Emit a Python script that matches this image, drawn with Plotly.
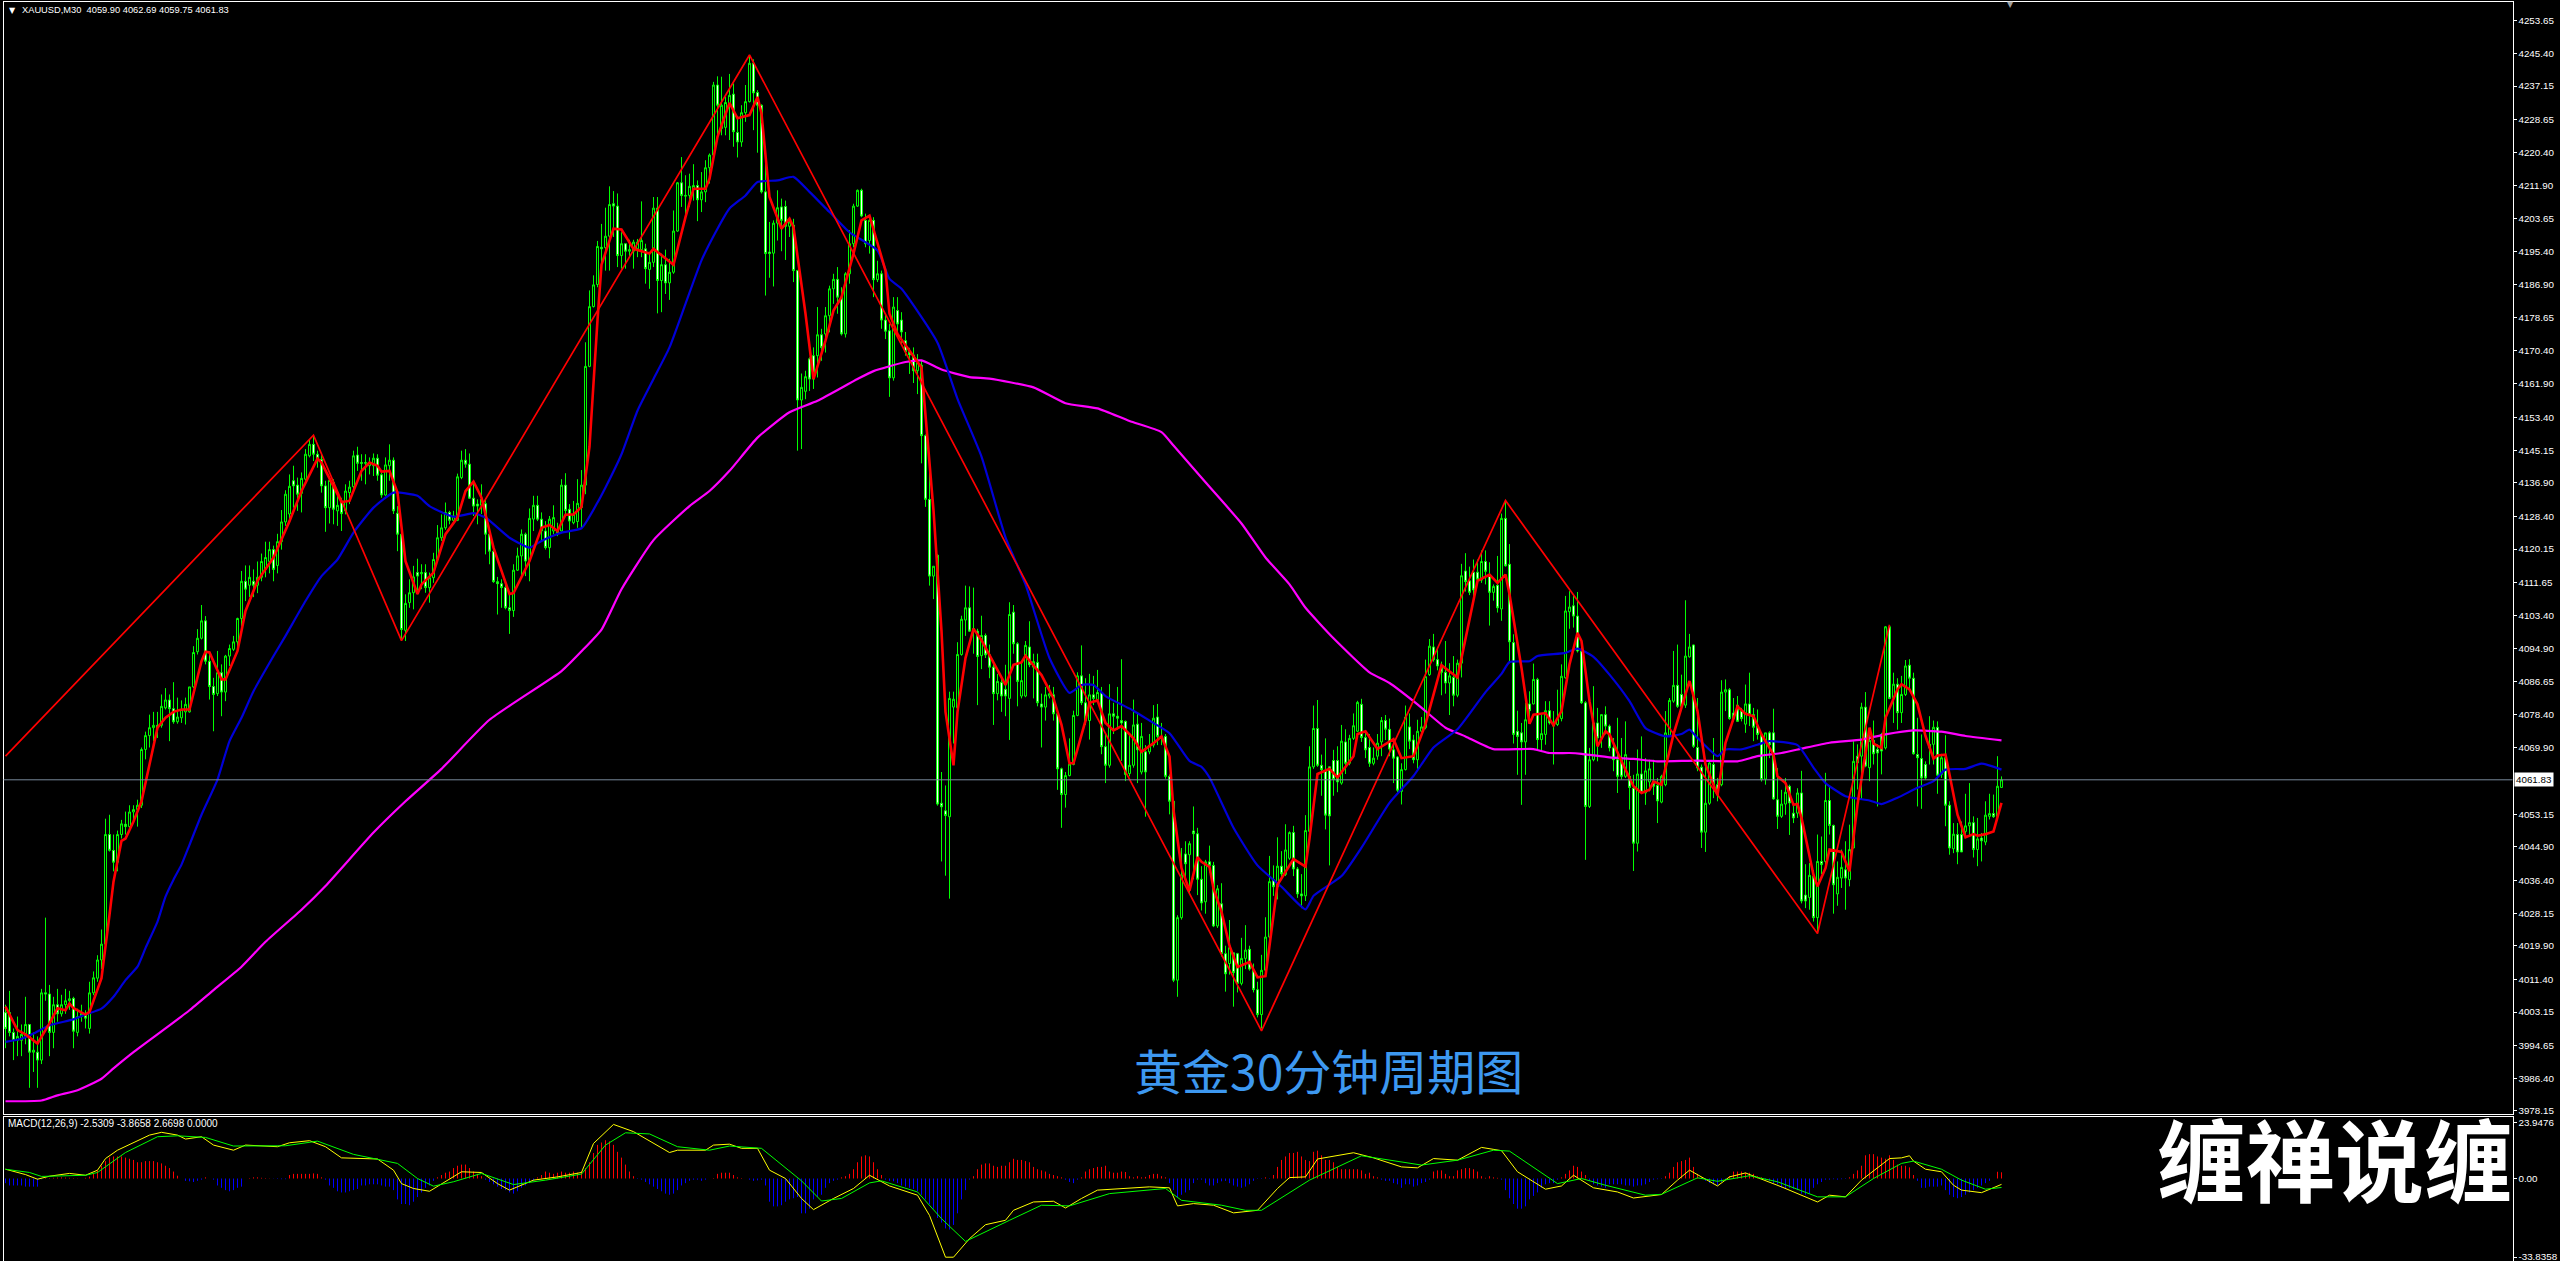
import plotly.graph_objects as go

W, H = 2560, 1261

tops = [
4003,4003,3998,3997,3997.5,4000,4000,3993.5,3993,4008,
4008,4007.7,4005,4005,4005,4006,4006.5,4006.6,4002,4002.8,
4002.6,4008,4011.8,4016.3,4020.3,4048,4048,4044,4048,4050.7,
4050.6,4053.7,4054.3,4055.4,4069.5,4073,4075,4075.6,4075.6,4080.4,
4082,4082,4079.8,4077.7,4079.6,4080.9,4085.3,4094,4097.6,4102,
4102,4091.8,4085.4,4088.9,4088.9,4093.1,4095,4096.7,4102.6,4112,
4112,4113,4112,4113,4117,4118,4120,4120,4122,4127,
4134,4136,4137.4,4136.3,4138,4144.1,4146.6,4146.6,4144.1,4142.8,
4136.1,4137.5,4137,4131.2,4132.3,4134.8,4135.8,4143.7,4143.9,4142,
4142,4142,4143.1,4143.1,4138.9,4141.4,4142.6,4142.6,4129.2,4123.9,
4106.4,4109.1,4113.1,4114.2,4114.2,4114.2,4112.9,4117.5,4123,4125.5,
4129.4,4129.4,4128.5,4138.4,4142.6,4142.6,4141.6,4133,4131.5,4132.7,
4131.6,4123.9,4119.6,4111.9,4111.4,4110.4,4105.3,4114.8,4118.4,4123.9,
4123.9,4127.9,4131.2,4131.2,4127.7,4124.7,4127.7,4128.1,4124.7,4136.3,
4136.3,4130.2,4128.9,4131.7,4136.3,4166.3,4181.4,4186.9,4196.6,4196.4,
4199.2,4207.2,4207.4,4206.8,4197.3,4197.3,4195.8,4197.7,4197.7,4198.1,
4196,4192.6,4206.3,4206.3,4192,4192,4190.1,4200.5,4212.7,4212.7,
4209.5,4211.8,4212,4212,4210.4,4216.5,4219.7,4237.4,4237.4,4232.3,
4233,4234.8,4235.1,4225.4,4230.4,4233.2,4242.9,4242.9,4235.5,4232.3,
4210.4,4195.2,4202.5,4206.4,4206.6,4206.7,4202.8,4202,4190.5,4161,
4163.7,4168.2,4169,4174.3,4174.3,4179.1,4185.9,4188.3,4188.3,4183.8,
4189.7,4197.3,4206.8,4210.8,4210.8,4203.2,4203.2,4203.2,4189.7,4189.7,
4178,4175.3,4181.3,4180.4,4178,4172.8,4170,4169.2,4167.2,4166.6,
4148.8,4132.7,4115.8,4118.6,4055.9,4054,4082.4,4082.2,4093.5,4102.4,
4105.3,4105.3,4100,4099.4,4098.3,4098.3,4093.4,4090.3,4086.7,4086.4,
4084.7,4103.6,4104.2,4096.2,4086.9,4095.8,4095.4,4091.7,4091.5,4081,
4083.3,4083.6,4083.3,4078.5,4064.6,4062.9,4065.8,4078.1,4088.1,4088.1,
4081.3,4083.3,4083.3,4083.9,4083.9,4070.2,4078.5,4078.5,4077.9,4076.8,
4076.6,4065.5,4075.7,4075.9,4072.8,4068.9,4070.6,4077.4,4077.7,4072.8,
4072.8,4062.7,4056.4,4027,4037.8,4043.1,4045.7,4048.9,4048.2,4036.7,
4041.1,4041.1,4040.2,4034.3,4030.5,4017.9,4019.4,4018.1,4017.9,4016.7,
4018.8,4019,4013.6,4008.8,4013.7,4022.1,4036.1,4036.6,4040,4040,
4044.1,4048.5,4048.5,4039.3,4033,4049,4065.1,4074.8,4074.8,4065.5,
4064.2,4065.1,4066.7,4066.7,4071.6,4071.4,4072.3,4075.5,4081.4,4080.9,
4072.5,4070,4067.3,4071.1,4076.8,4076.8,4074.6,4069.4,4067.6,4064.4,
4077.7,4075.2,4071.9,4074.1,4075.2,4087.9,4095.6,4095.4,4092.2,4090.8,
4089,4088.1,4087.7,4091.3,4113.4,4114.6,4112.1,4114.3,4114.3,4117,
4117,4113.7,4110.7,4111,4127.9,4127.9,4116.3,4096.5,4074.1,4073.7,
4077,4081,4087.2,4087.2,4073.5,4079.3,4079.3,4076.2,4077.3,4088,
4104.5,4105.5,4105.8,4103.2,4094.4,4081.3,4066.9,4076.2,4076.2,4078.3,
4078.3,4075.4,4069.9,4066.9,4066.9,4068.2,4062.7,4059.7,4063.3,4063.3,
4064.1,4064.6,4061.4,4060.4,4062.7,4073.7,4081.9,4085.7,4085.7,4083.4,
4093.1,4095.4,4095.9,4070,4065,4055.9,4066.1,4065.7,4060.6,4084,
4084.6,4084.6,4078.7,4080.7,4079.2,4081,4081,4078.3,4075.4,4073.3,
4073.7,4073.7,4073.7,4056.8,4055.7,4058.7,4060.2,4053.4,4058.5,4058.5,
4032.7,4037.7,4037.4,4041.2,4041.2,4056.6,4056.6,4050.3,4037.2,4039.7,
4039.1,4044.2,4066.5,4067.8,4080.2,4080.2,4071.8,4071.8,4069.5,4073.3,
4100.5,4100.5,4086,4086,4083.4,4090.6,4090.8,4087.5,4068.2,4067.2,
4065.7,4070.8,4075.1,4075.1,4067.4,4067.4,4055.4,4048.1,4048,4048,
4050.2,4051,4051,4046.9,4047.1,4052.9,4053.3,4053.3,4060.2,4061.83]

bottoms = [
3999,3998,3996,3996,3996,3997,3993,3993,3991,3991,
4007.7,3998,3998,4002.7,4002.7,4005,4006,3998.3,3998,4002,
4001.6,3999,4008,4011.7,4016.3,4020.3,4044,4041,4041,4048,
4050,4050,4053.7,4054.3,4055.4,4069.5,4073,4075,4075,4075.6,
4080,4079.8,4076.5,4076.5,4077.5,4079,4079,4085.3,4094.2,4097.6,
4091.8,4085.4,4083.4,4083.6,4084,4084,4093.1,4094.8,4096.7,4102.6,
4110,4111,4111,4111,4113,4115,4117,4115,4116,4122,
4127,4129,4136.1,4134,4134.2,4137.8,4143.7,4144.1,4142.4,4136.1,
4130.6,4130.6,4130.2,4129.8,4129.1,4129.8,4134.4,4135.9,4141.8,4141.8,
4141.8,4141.2,4141.2,4138.8,4133.8,4133.8,4141.2,4129.8,4123.9,4099.8,
4099.6,4106.6,4109.1,4113.3,4113.9,4110.4,4110.4,4112.9,4117.5,4123,
4125.5,4127.4,4127.4,4127.4,4138.2,4141.6,4133,4131,4131,4131.2,
4123.9,4119.6,4111.9,4111.4,4110.4,4105.3,4104.6,4104.6,4114.8,4118.4,
4117.1,4117.3,4127.7,4127.7,4124.7,4120.5,4120.5,4124.7,4124.3,4124.7,
4129.9,4127.2,4126.8,4127.1,4130.6,4136.3,4166.3,4181.4,4187,4196,
4196.3,4199.2,4206.8,4194.3,4194.3,4195.4,4195.4,4195.4,4196,4195.8,
4191,4190.8,4192.6,4188,4188,4187.4,4187.4,4190.1,4200.5,4209.5,
4209.3,4209.5,4211.2,4208.4,4208.4,4210.4,4216.5,4219.7,4232.3,4226.4,
4226.7,4232.7,4225.6,4223,4223,4230.4,4233.2,4235.4,4232.3,4210.4,
4194.8,4194.8,4194.9,4202.5,4203.2,4201.7,4201.7,4190.5,4157.8,4157.8,
4160,4163.1,4163.1,4169,4171.1,4174.5,4179.1,4185.9,4183.8,4174.5,
4174.5,4189.7,4197.3,4206.8,4204.3,4197.3,4198.1,4188.2,4188.2,4178,
4175.2,4163.4,4163.4,4177,4175,4170,4169.2,4165.2,4165.2,4148.8,
4132.7,4113.3,4113.3,4055.7,4055,4052.8,4052.5,4080.2,4080,4093.5,
4102.2,4099.4,4099.4,4093,4093.2,4093.4,4090.3,4083.6,4083.6,4083,
4083,4082.4,4096.2,4086.7,4083,4083,4090.9,4090.3,4081.3,4080.2,
4080.2,4083,4078.5,4064.6,4058.1,4058.1,4062.9,4065.7,4078.1,4081.3,
4076.8,4076.8,4082.4,4082.1,4070.2,4065.5,4065.5,4077.9,4077.4,4076.2,
4063.2,4063.4,4065.5,4069.4,4063.8,4063.8,4068.9,4070.6,4072.8,4072.3,
4062.7,4056.4,4011.2,4011.2,4027,4040.6,4042.9,4048.2,4036.7,4030.7,
4031,4040.2,4024.9,4024.9,4017.9,4012.8,4015.4,4013.1,4010.4,4010.4,
4016.7,4014,4008.8,4002.5,4002.5,4013.7,4022.1,4034.8,4034.8,4038.1,
4037.9,4042,4039.3,4033,4032.5,4032.5,4048.8,4065.1,4065.5,4064.4,
4052.9,4052.7,4061.9,4061.3,4061,4066,4066,4072.3,4074.1,4072.5,
4069.4,4066,4066,4067.8,4071.4,4074.6,4069.6,4067.3,4059.2,4058.9,
4064.4,4071.6,4066.9,4066.9,4074.1,4075,4088.4,4092.2,4090.6,4089,
4086.3,4086.3,4083.2,4083.2,4091.3,4111.9,4109.2,4109.8,4112.5,4112.3,
4114.5,4109.2,4109.2,4105.3,4105,4115.9,4096.7,4073.3,4072.8,4071.4,
4071.4,4079.3,4081,4072,4072,4073.3,4076.2,4075.4,4075.8,4077.3,
4087.6,4104.3,4103.2,4094.4,4081.3,4055.1,4055.1,4066.9,4072.4,4072.4,
4075.4,4069.9,4066.9,4062.7,4062.7,4062.7,4059.9,4045.8,4045.8,4058.7,
4058.5,4061.3,4060.2,4056.5,4056.2,4060.6,4073.1,4081.7,4080.4,4080.4,
4080.7,4092.9,4070.3,4064.8,4048.6,4048.6,4055.9,4060.6,4058,4060.6,
4084,4077.3,4077.3,4076.6,4077.3,4075.9,4078.3,4075.1,4073.3,4061.9,
4062,4070.7,4057,4052.6,4052.6,4055.7,4056,4052.2,4053.4,4031.2,
4031.2,4032.1,4027,4027,4040.4,4041.2,4050.3,4035.3,4033,4037,
4037,4036.6,4044.6,4066.1,4067.8,4065.3,4064.9,4068.4,4068.6,4069.1,
4069.9,4082.4,4082.6,4078.8,4078.8,4083.4,4087.5,4068.4,4067.4,4062.3,
4062.3,4069.9,4070.8,4063,4063.2,4055.4,4044.6,4044.4,4043.6,4043.6,
4048.8,4050.2,4044.2,4044.2,4046.4,4046.1,4052.6,4052.5,4052.6,4059.9]

highs = [
4005,4008.5,3999,4002,4000,4007,4000,3998,3997,4009,
4027,4010,4007,4009,4007.5,4009,4008.5,4007,4004,4005,
4003.6,4010.8,4013.4,4017.5,4024,4052,4053,4048,4049,4051.7,
4053.8,4055.4,4055.4,4056.8,4070,4074,4078.3,4079,4079,4083.4,
4085,4083.4,4086.5,4082.6,4081.9,4082.6,4085.3,4095.6,4099.9,4106,
4103.2,4093.9,4087.6,4094.4,4091,4093.4,4096,4098.2,4102.8,4114.6,
4116,4116,4115,4117,4119,4122,4122,4121,4124,4130,
4135,4139,4141.2,4138.2,4139.5,4145.4,4147.9,4148.8,4145,4144.1,
4137.4,4138.2,4137.8,4134.8,4133.1,4136.5,4137.4,4145,4146,4144.1,
4144.1,4143.3,4144.3,4144.1,4139.5,4143.3,4146.6,4143.3,4131,4124.3,
4108.7,4112.5,4115.9,4117.7,4116.3,4116.3,4114.2,4119.2,4126.2,4128.9,
4131.9,4129.8,4129.8,4139.2,4145,4145.4,4144.3,4137.4,4132.7,4136.5,
4132.7,4125.1,4120,4113.1,4112.5,4112,4108.8,4116.3,4120.5,4125.1,
4124.3,4130.4,4133.6,4133.6,4129.4,4127.2,4128.5,4131.2,4126.8,4137.8,
4139.3,4131.5,4132.3,4137.8,4140.1,4172.4,4185.5,4189.3,4198,4202.3,
4206.4,4211.8,4210.6,4210,4200.2,4197.3,4198.3,4198.3,4198.5,4208,
4197.3,4194.8,4209.1,4209.1,4194.8,4195.8,4193.5,4205.7,4212.9,4219.2,
4214.6,4215,4217.4,4213.3,4215.4,4218.4,4220.1,4238.2,4239.6,4239.5,
4234.4,4240.2,4237.8,4229.4,4232.3,4237.4,4245,4243.9,4236.1,4232.5,
4220,4202.8,4203.2,4210.8,4208.7,4208.2,4203.2,4203.6,4190.7,4164.5,
4165.2,4168.6,4171.1,4181.3,4175.8,4181.3,4186.7,4189.7,4191.4,4186.3,
4190.1,4200.7,4207.4,4211,4211.2,4204.9,4204,4204,4193,4190.5,
4179.6,4177,4183.8,4183.8,4180,4175,4171,4171.1,4169.4,4167.8,
4149.1,4140.6,4115.8,4118.8,4063.8,4060.4,4084.1,4084.1,4096.6,4103.3,
4110.9,4110.7,4110.4,4100,4103.3,4098.8,4096,4092,4088.6,4087.5,
4090.9,4106.7,4106,4096.6,4091.5,4096.9,4101.9,4093.7,4093.7,4083.6,
4085.3,4085.8,4085.3,4079,4064.9,4063.8,4072.3,4079.3,4089,4095.8,
4087.5,4088.6,4088.1,4089.6,4085.3,4073.4,4086,4081.3,4085.3,4092.3,
4076.8,4073.6,4082.1,4078.5,4076.2,4070.6,4073.4,4080.7,4081,4076.2,
4073.4,4063.2,4057,4027.6,4044.6,4046.3,4046.3,4055.1,4049.7,4040,
4041.6,4045.2,4041.1,4035.2,4035.7,4019.9,4026.4,4018.1,4018.1,4021.9,
4025.1,4019.9,4015.4,4010.8,4017.6,4027.1,4042.6,4040.2,4047.3,4043.8,
4050.6,4048.8,4050.2,4039.8,4038,4052.9,4070.3,4080.6,4082,4068.2,
4072.3,4065.1,4069.4,4070.3,4075.7,4074.6,4073.2,4078.6,4081.8,4082.3,
4074.1,4073.4,4070,4073.4,4077.7,4078.2,4077.3,4071.9,4067.8,4066,
4080.6,4078.6,4073.2,4077,4077.7,4092.2,4097.4,4098.7,4094.9,4091.7,
4096.9,4091.3,4093.1,4092.2,4116.4,4119.1,4115.7,4117.5,4117.5,4119.8,
4119.8,4116.8,4111.2,4118.4,4129.1,4132.4,4121.4,4098.6,4079.3,4076.2,
4081.3,4084.2,4091.2,4087.6,4078.3,4081.7,4081.7,4079.2,4084.6,4091,
4108.3,4109.5,4108.3,4109.3,4096.9,4081.7,4069.9,4085.5,4080,4078.3,
4080.4,4075.8,4072.4,4077.5,4072.4,4076.6,4066.5,4063.1,4069.5,4072.8,
4067.3,4066.9,4066.9,4062.3,4063.1,4079.2,4082.5,4094.4,4096,4088.4,
4107.2,4098.7,4096,4082.5,4065.7,4065.7,4066.5,4072.4,4062.3,4087,
4087.2,4085,4082.5,4083,4080,4085.9,4088.9,4080,4079.6,4073.7,
4073.7,4074.1,4079.8,4064.8,4059.3,4062.3,4060.6,4055.5,4059.7,4064.1,
4040.5,4040.8,4039,4048,4047.5,4063.6,4060.2,4050.5,4041.2,4044.2,
4046.3,4050.5,4071.6,4070.8,4081.3,4084,4073.3,4076.8,4070.8,4073.7,
4100.7,4100.7,4088.9,4087.5,4088.1,4092.1,4092.3,4088.9,4077.5,4073.3,
4066.5,4077.9,4076.8,4076.6,4068.4,4073.1,4056.4,4050.9,4050.9,4051.3,
4058.3,4061,4052.6,4052.2,4048.4,4056.4,4058.3,4058.1,4067.8,4062.69]

lows = [
3994,3997,3991,3992,3992,3995,3984,3988,3984,3990,
4006,3992,3994,4000.7,4002,4002.7,4003.7,3994,3997,4000.7,
3999,3997.7,4007.4,4010.8,4014,4020,4043.7,4038.7,4038.7,4047,
4048,4049.6,4051.3,4050,4054.7,4067,4070,4071.6,4072.4,4075,
4079.6,4071.6,4076,4076,4076.2,4075.8,4078.8,4085,4093.5,4097.3,
4091,4082.1,4074.1,4083,4077.9,4081.7,4090.6,4094.4,4094,4100.7,
4107,4108,4108,4109,4112,4113,4114,4112,4114,4120,
4126,4127,4130.6,4129.8,4129.4,4137.4,4143.3,4142.4,4140.7,4134.4,
4124.5,4126.6,4126.4,4126,4124.7,4128.9,4131.5,4134.8,4139.9,4137.4,
4136.5,4139,4138.6,4137.4,4133.1,4133.6,4137.4,4129,4119.6,4096.9,
4096.9,4105.3,4104.9,4108.7,4110,4109.1,4106.6,4111.6,4117.1,4122.2,
4125,4126.4,4126.4,4127.2,4137.8,4140.7,4132.8,4128.5,4126.4,4129,
4118.8,4116.3,4111.6,4103.6,4105.3,4104.9,4098.7,4103,4114.6,4112.9,
4113.3,4112,4124.7,4127.2,4122.2,4120,4117.8,4123.9,4123.4,4124.6,
4128.9,4122.6,4126.4,4125.5,4125.5,4134,4166.1,4181.2,4186.3,4190.5,
4190.5,4190.5,4199,4191.4,4191,4191,4193.9,4191,4193.9,4193.9,
4187.2,4185.9,4191.4,4179.7,4180,4184.6,4183.1,4189.7,4200.3,4206.6,
4203.2,4206.6,4208.2,4203,4205.3,4207.8,4212.5,4219.6,4223.5,4224.7,
4224.7,4223.5,4221.8,4219.1,4221.8,4228.1,4233,4226,4220.3,4210,
4184.2,4188.7,4186.5,4198.1,4195.4,4193.2,4199,4187.6,4145,4145.4,
4158,4160.1,4160.6,4163.5,4167.7,4169.8,4174.9,4182.1,4179.6,4174.1,
4173.6,4187.2,4196.4,4206.6,4204,4196.4,4194.8,4183.8,4187.6,4175.8,
4173.2,4158.6,4162.7,4173.6,4172,4169,4164.4,4162.1,4159.3,4141.8,
4130.8,4110.9,4107.5,4055.3,4041.2,4037.6,4031.8,4071,4079.6,4093.2,
4098.2,4099.2,4093.7,4080.7,4089.8,4092.6,4087.5,4075.7,4081.9,4079,
4077.9,4071.9,4093.7,4080.4,4082.4,4082.7,4090.3,4082.4,4080.4,4070,
4076.8,4082.4,4076.8,4059.3,4049.7,4054.8,4062.7,4065.5,4077.9,4080.7,
4075.7,4072,4080.7,4081.3,4068.3,4061,4064.9,4073.4,4074.5,4066.6,
4061.5,4062.7,4064.9,4061,4063.2,4052.5,4068.3,4070,4070.6,4070.6,
4062.1,4053.1,4010.7,4007,4026.5,4036.1,4033.3,4036.7,4032.7,4028.8,
4028,4038.4,4024.6,4024.4,4017.2,4008.3,4012.6,4004.5,4008.1,4009.9,
4014,4013.6,4008.1,4001.8,3999,4012.6,4021.7,4032.5,4031.6,4037,
4037.5,4041.6,4037.5,4032,4029.4,4031.2,4048.4,4064.6,4065.1,4057.8,
4049.3,4040.2,4057.8,4058.7,4060.6,4063.3,4065.5,4071.9,4073.9,4071.4,
4067.3,4065.1,4065.5,4066.9,4067.8,4071.9,4067.8,4061,4058.7,4055.6,
4064.2,4069.6,4066,4064.6,4073.2,4074.6,4088.1,4091.7,4089.5,4083.2,
4083.6,4078.2,4080.4,4082.7,4087.7,4109.4,4108.5,4106.7,4111.6,4111.6,
4111.2,4100.8,4107.1,4104.1,4102,4115.7,4091.3,4071,4063.1,4055.5,
4063.1,4076.6,4080.9,4069.5,4069,4070.7,4075.8,4065.7,4075.4,4076.6,
4087.4,4100,4100.3,4094,4081,4041.6,4054.7,4066.5,4066.5,4069.9,
4073.3,4069,4064,4058.5,4061.9,4062.3,4054.3,4038.8,4043.7,4058.5,
4055.5,4058.9,4058,4050.9,4055.9,4060.2,4072.8,4081.3,4080,4079.2,
4080,4092.7,4069.9,4064,4044.6,4043.6,4055.5,4057.2,4056.4,4060.2,
4079.2,4077,4076.6,4076.6,4076.6,4073.7,4075.4,4071.6,4072,4061.4,
4060.6,4067.3,4056.8,4049.4,4052.2,4053,4047.9,4050.9,4052.2,4030.6,
4029.4,4029,4026,4023,4038,4040.4,4048,4028,4030,4034.5,
4029,4034.9,4044.6,4059.4,4056.8,4065,4061.5,4065.7,4055.1,4063.2,
4069.5,4082.2,4076.2,4074.5,4076.2,4083,4084.9,4068.2,4055.1,4054.5,
4061.9,4065.7,4065.7,4058.3,4062.3,4050.1,4042.9,4043.3,4040.5,4043.6,
4047.1,4047.5,4042.2,4040,4041.2,4045.3,4051.8,4052.2,4052.2,4059.75]

candle_kind = ("wwwbbbwbwb" "wwbwbbbwbb" "wbbbbbwwbb" "wbbbbbbbwb" "bwwbbbbbbb"
               "wwwbwbbbbb" "wbwbbbbwbb" "bbwwbbbwww" "wbwbwbbbww" "bbbwwbbwww"
               "bbbwbwbbbb" "bwbbbwwwwb" "wwwwwwwbbb" "wbbwwwbbwb" "wwbbbbbbbw"
               "bbwwbwbbbb" "wbbwbwbbbw" "bbbwbbbbwb" "bbwwbbbwww" "wwbbwwbwwb"
               "bwwbwbbbww" "bbbbwwbwbw" "wwbwwwwwbw" "wwbwwwbbbb" "bwwwbwwwbw"
               "wbwwbbwbww" "bbwwwbbbbw" "wbwbwwbwww" "wbbwbwbbww" "wwwbbwbwww"
               "bwwbwwbwwb" "bwwwbbbwbw" "bbwwwbbbww" "wwwwbwbbbw" "wwbbbwwwwb"
               "bwwbbbbwww" "wbwbbwwwwb" "wwbwbwwwww" "bwbwbbwwbb" "bbwwwwbbwb"
               "wwwwwbwwbw" "bbwwbbbbww" "bbwwwbbwwb" "bwwwwbwwww" "bwwwbbwwbw"
               "wbwbwbwwbb" "wbbwbwbwww" "bwbwbbwwww" "wwbwbwwbww" "bbwbwbbwbb")

zigzag_bar = [0, 77, 99, 186, 314, 375, 453, 471]
zigzag_val = [4067.8, 4148.9, 4097, 4245, 3998.4, 4132.4, 4023, 4101]

blue_bar = [0,4,7,11,17,20,24,27,30,33,35,38,40,42,44,46,49,53,56,59,62,67,70,75,79,83,87,92,97,103,106,112,117,120,126,131,134,139,144,148,
            150,154,158,162,166,170,174,178,181,185,188,193,197,201,206,211,218,221,224,233,238,244,250,255,261,266,269,272,275,282,286,291,296,
            299,301,307,313,319,325,327,334,339,346,352,357,363,370,374,376,381,383,390,393,397,401,406,410,415,419,421,423,428,430,434,438,441,448,
            452,455,460,466,469,473,478,482,485,490,494,499]
blue_val = [3995.6,3996.4,3997.7,3999.8,4001.3,4002.5,4004,4007,4011.2,4014.6,4019.3,4026,4032.3,4036.6,4040.4,4045.4,4053,4061.9,4071.6,4077.5,4084.2,4093.1,4098.2,4107,4113.3,4117.5,4124.3,4130.6,4134.4,4133.6,4131,4128.3,4129.2,4128.1,4123,4120.5,4122.2,4124.3,4125.4,4131.9,
            4135.7,4144.1,4155.1,4163.1,4171.1,4182.1,4193.1,4201.1,4206.2,4209.5,4212.9,4213.3,4214.2,4210.4,4205.3,4200.2,4195.6,4188.4,4185.9,4172.3,4158.1,4143.5,4123.1,4111.2,4092.6,4083.8,4085.8,4085.8,4083,4079.3,4076.8,4073.6,4066.6,
            4065.1,4062.4,4049.7,4040.2,4034.8,4029.1,4032.5,4037.5,4044.7,4056,4062.8,4070,4074.6,4084,4088.6,4091.6,4091.8,4093.1,4093.9,4095,4092.9,4088.4,4081.7,4074.9,4072.8,4073.4,4074.5,4072.4,4067.8,4069.5,4069.5,4070.7,4071.6,4070.6,
            4064.9,4061,4057.7,4056.6,4055.7,4057.3,4059.8,4061.5,4064.4,4064.6,4065.9,4064.4]

magenta_bar = [0,9,13,18,24,27,32,40,46,52,59,65,74,80,92,100,109,121,139,144,149,154,162,171,176,181,188,196,203,213,217,225,229,234,241,246,257,265,273,281,289,292,
               300,309,315,321,325,332,341,346,353,360,365,372,379,382,386,391,394,401,407,413,423,433,438,444,449,456,464,470,477,484,490,499]
magenta_val = [3980.6,3980.8,3982.1,3983.4,3986.3,3988.9,3993,3999,4003.6,4008.7,4014.6,4020.9,4029,4035,4048.5,4056.4,4064.6,4077,4089.3,4094.3,4099.8,4110,4122.4,4131,4134.8,4139.9,4148.3,4154.7,4157.6,4163.1,4165.1,4167.4,4167.8,4165.5,4163.6,4163.2,4161,4157,4155.7,4152.5,4149.7,4146.3,
               4137,4126.6,4118,4111.2,4105.3,4097.6,4089,4086.3,4080.9,4075,4072.8,4069.6,4069.6,4069.6,4068.6,4068.6,4068.4,4067.5,4067.1,4066.5,4066.7,4066.5,4067.8,4068.6,4069.7,4071.2,4072,4073.3,4074.3,4074,4072.9,4071.8]

red_bar = [0,3,5,8,11,13,15,16,17,20,21,24,26,27,29,30,32,34,36,38,40,42,44,46,49,50,51,54,55,58,60,63,67,71,74,78,79,84,86,89,91,93,94,96,98,100,103,104,107,110,113,115,117,119,122,126,127,131,134,136,138,140,142,144,
           146,147,148,149,152,154,157,161,162,167,170,172,175,176,178,181,183,186,188,189,191,194,196,197,200,202,205,207,209,212,214,216,220,221,223,
           229,230,232,234,235,237,238,240,242,244,247,250,252,254,255,259,262,264,266,267,270,271,273,275,277,279,282,284,287,289,291,292,294,296,298,
           299,301,302,304,306,308,311,313,315,318,322,325,326,328,331,333,337,338,340,343,347,349,352,355,359,363,368,371,373,375,
           376,379,381,382,385,387,389,391,393,394,396,398,400,401,404,407,409,411,412,414,417,421,423,425,428,430,431,433,435,437,439,442,443,445,447,448,
           449,452,453,455,456,459,461,463,466,467,469,470,473,474,476,478,480,482,483,485,486,488,490,492,493,495,497,498,499]
red_val = [4004.5,3998.6,3997.5,3995.2,4000.3,4004.1,4003.6,4005.3,4004.1,4002.5,4003.2,4011.7,4027.7,4036.1,4046.4,4047,4051.3,4056.4,4065.7,4075,4077.5,4079,4079.6,4079.6,4091.8,4094.2,4094,4087.2,4087.2,4094.4,4104.5,4112.1,4118,4127.2,4134.8,4143,4142,4132,4132.3,4139.9,4142,4141.2,4139.7,4139.9,4134.4,4117.1,4108.8,4111.2,4114.2,4123.9,4128.1,4134.8,4137.2,4133.1,4120.5,4108.8,4109,4117.1,4125.5,4126.2,4124.7,4128.8,4128.9,4130.8,
           4146,4163,4178,4192,4201.1,4200.9,4196,4194.8,4196,4192,4204,4211.2,4211.2,4213.7,4224.3,4232.9,4229,4229.8,4234.4,4230.2,4209.1,4201.1,4203.6,4201.5,4179.6,4163.1,4172.8,4180.4,4183.8,4194.8,4203.2,4204.4,4190.5,4179.6,4174.5,
           4166,4153.6,4129.9,4099.4,4079,4065.5,4079,4092.6,4100,4097.1,4091.5,4085.8,4090.9,4091.5,4093.2,4088.3,4082.4,4075.7,4066,4066,4076.8,4081.3,4081.9,4076.2,4074.3,4075.4,4072.3,4068.9,4071.1,4072.8,4067.7,4054.2,4039.5,4033.8,4042.3,
           4041.1,4039.8,4034.3,4028.5,4019.9,4014.5,4015.8,4011.9,4012.2,4035.3,4041.8,4039.9,4047,4063.3,4064.6,4062.4,4067.8,4073.4,4074.1,4069.6,4072.1,4067.3,4067.8,4075.9,4090.8,4087.7,4112.1,4113.7,4111.6,4113.7,
           4108.7,4090.1,4076,4078.3,4078.7,4075.6,4079.2,4091,4099,4096.9,4081.7,4070.3,4074.1,4073.3,4066.5,4060.2,4058.5,4059.3,4061.4,4060.6,4073.3,4086.8,4079.2,4065.7,4058,4071.2,4074.1,4080.4,4078.5,4077.9,4073.3,4068.2,4062.7,4061,4055.5,4055.7,
           4052.2,4037.8,4034.9,4039.5,4044.2,4043.6,4038.7,4055.6,4075,4071,4069.9,4077.5,4084.7,4086,4084.7,4080.9,4072.9,4067.2,4068,4068.2,4063.2,4053,4047.3,4048.1,4047.7,4048.1,4048.8,4052.6,4056]

macd_bar = [0,5,8,11,16,20,23,25,28,32,36,39,43,45,49,52,57,60,68,71,76,80,84,93,97,99,102,106,110,114,119,123,126,132,138,144,147,152,157,161,166,168,175,177,181,184,188,191,195,199,
            202,207,212,216,221,228,231,235,237,241,245,250,252,257,262,265,269,273,279,286,291,293,297,302,307,313,318,321,325,328,337,342,349,353,357,363,369,374,378,385,389,392,397,403,407,414,418,421,428,431,435,444,453,456,460,464,471,474,
            476,477,480,484,487,489,494,496,499]
macd_val = [4,1.7,-0.3,1,2.2,1.4,3.6,8.6,12.2,15.4,18.7,19.9,18.7,17,18,14.4,12.2,14.4,13.7,15.4,16.3,13.7,8.9,8.4,3.6,-2.2,-4.3,-5.5,-1.4,2.9,2.6,-2.2,-5,-0.7,0.7,2.6,15.1,23.3,20.2,16.3,11.2,12.2,12.2,14.4,14.8,13,13,3.6,0,-8.6,
            -13.4,-8.6,-4.3,1.4,-3.2,-7.2,-15.9,-33.9,-33.9,-25.9,-19.9,-18,-13.7,-10.1,-9.8,-12.7,-8.6,-5,-4.3,-3.6,-4,-11.8,-10.8,-11.5,-14.8,-13.7,-4.3,0.4,0.7,8.4,11.1,8.9,5,4.6,8.6,7.9,13.4,12,2.9,-4.6,-3.2,1.4,-4,-5.8,-8.4,-6.9,-0.7,3.6,-3.2,0.7,2.4,-3.6,-10.1,-7.2,-7.9,-0.7,8.6,8.9,
            9.8,7.5,4,2.9,-2.9,-5,-6.1,-4.6,-2.53]

signal_bar = [0,6,9,20,23,30,38,43,50,57,70,78,87,98,103,107,112,119,127,135,144,150,155,161,168,176,181,189,199,
              204,209,216,219,228,234,240,251,259,266,276,290,294,304,310,314,326,339,349,354,363,372,376,388,394,400,410,414,423,428,436,443,453,460,467,474,
              477,484,489,495,499]
signal_val = [4,2.6,0.9,1.4,2.6,11.2,18,18.4,17.7,14,14.1,16.1,10.4,6.5,0,-3.3,-1.4,2.2,-2.6,-0.7,1.9,14.4,19.7,19.2,13.7,12.2,14,13,-1,
              -9.7,-8.6,-1.9,-1,-5.8,-17.3,-27.1,-18,-11.5,-11.8,-6.5,-4.3,-9.4,-11.5,-13.7,-13.7,-0.7,9.8,7.2,5.8,7.9,12.2,11.8,-2.2,0,-2.9,-7.2,-6.8,0.3,-1.2,1.2,-1.4,-7.9,-7.9,0,6.5,
              7.5,4,-0.7,-4.6,-3.87]

macd_hist = [
-2,-3,-3,-3,-3,-3.5,-3.5,-3.5,-3.5,
-0.3,0.2,0.2,0.3,0.4,0.5,0.4,0.3,0.2,0.1,0,
0.3,0.8,2,
3.5,5.5,7.5,9,9.5,9.5,9.5,9,8.5,8,7,7,7.5,7.5,7.5,7,6.5,5.5,4.5,3,1.2,0,
-1,-1.2,-1.5,-1,-0.5,0.5,0,
-0.5,-3,-4,-5,-5.5,-5,-4,-3.5,
0,0.2,0.5,0.5,0.3,0.2,0.1,-0.1,-0.2,-0.3,-0.3,
1.5,2,2,2,2,2,2.2,2,0.5,
-0.5,-3,-4,-5.5,-6,-6,-5.5,-5,-4.5,-3,-3,-2.5,-2.5,-2.5,-3,-3.5,-3.5,
-5,-9,-11,-11,-11.5,-10,-8,-6,-4,-3,-1,
0.5,1.5,2.5,3,4.5,5.5,6,6,4.5,3,2,1,
-0.5,-1.5,-2.5,-3.5,-4.5,-5,-6,-6.5,-5.5,-4,-3,-2,-1,
0.5,1.5,3,2.5,2,2.5,3,2.5,2.5,3,2.5,3,4.5,7,11,14.5,15.5,16.5,16,14.5,11.5,9,6,3,1,
-0.2,-0.5,-1.5,-2.5,-3.5,-4.5,-5.5,-6.5,-7,-6.5,-5,-3,-2,-1,-0.5,-0.5,-1,-0.5,
0,0.2,2,2.5,2.5,2.5,1.5,0.5,0.2,0,
-0.5,-1,-0.8,-0.5,-3,-10,-12,-12,-11.5,-10,-9,-8.5,-8,
-15,-15,-13,-9,-8,-7,-4,-2,-1,-0.5,
0.5,1,2,4,7,9.5,10,9.5,7,4,1.5,
-0.5,-1,-1.2,-2,-3,-3.5,-4,-4.5,-5.5,-7,-9,-11,-13,-17,-19,-21.5,-22,-20,-15,-9,-5,-0.5,
1,4,6,6.5,6.5,5.5,5,5.5,5.5,7,8.5,8,8,7.5,7,5,4,3.5,3,2,1.5,1,0.5,
-0.5,-1.5,-2,-0.5,
0.5,3,4,4.5,5,5,5.5,3,2.5,2.5,3,2.8,1,0.5,1,0.5,0.7,1.5,2,2,1,0.5,
-2,-5,-8,-7,-6,-5,-2,-0.5,-0.5,-2,-3,-3,-2,-1.2,-1,-2,-3,-3.5,-4,-3.5,-2.5,-1,-0.2,-0.2,0.5,-0.2,
1.5,5,8,9.5,11,11,11.5,9.5,8,7.5,11.5,12,10,8,8,7,5,4,4,4,4,4,3.5,2,2.5,1,0.5,
-0.5,-1,-1,-2,-2.5,-4,-2.5,-2.5,-3.5,-3,-2,-1.5,-0.5,
3,3.5,3.5,2,1,1,3.5,4,4.5,4.5,4,3,1,0.3,1,0.5,0.3,
-0.5,-5,-8.5,-11,-13,-13,-12,-9,-7.5,-6,-4,-2.5,-2,-2,-0.5,
0.5,2,3.5,5.5,5,3,1.5,
-1,-2.5,-3,-3.5,-4,-2.5,-2.5,-2.5,-2.5,-3,-3,-3.5,-3,-3,-2.5,-1.5,-0.5,-0.3,-0.2,
1,2.5,5,7,7.5,8,9,5,2,0.5,
-1,-2,-2.5,-3,-1.5,-0.5,
1,3,3,3,2.5,2.5,2,1,0.5,
-0.5,-1,-2,-2.5,-4,-4.5,-4,-4.5,-5,-6.5,-7,-6.5,-4,-2.5,-1.5,-0.5,-0.5,-0.3,-0.5,-0.3,-0.2,
0.5,2,3.5,5.5,10,10.5,10.5,9.5,9,8.5,10,8,6,5.5,5.5,4.8,1.5,
-1,-4,-4,-3.5,-3.5,-3.5,-3,-5,-7,-8,-8.5,-8,-7,-6,-5,-4,-3,-2,-1,
0,2.9,2.67]

price_ticks = [4253.65,4245.40,4237.15,4228.65,4220.40,4211.90,4203.65,4195.40,4186.90,4178.65,4170.40,
               4161.90,4153.40,4145.15,4136.90,4128.40,4120.15,4111.65,4103.40,4094.90,4086.65,4078.40,
               4069.90,4053.15,4044.90,4036.40,4028.15,4019.90,4011.40,4003.15,3994.65,3986.40,3978.15]
macd_ticks = [23.9476, 0.0, -33.8358]
macd_tick_text = ["23.9476", "0.00", "-33.8358"]
last_price = 4061.83

header_text = "XAUUSD,M30  4059.90 4062.69 4059.75 4061.83"
macd_text = "MACD(12,26,9) -2.5309 -3.8658 2.6698 0.0000"
blue_title = "黄金30分钟周期图"
white_title = "缠禅说缠"

n = len(tops)
bars = list(range(n))
opens = [t if k == "w" else b for t, b, k in zip(tops, bottoms, candle_kind)]
closes = [b if k == "w" else t for t, b, k in zip(tops, bottoms, candle_kind)]

def px(x):
    return x / W

def py(y):
    return 1 - y / H

def stems(keep):
    xs, ys = [], []
    for i, v in enumerate(macd_hist):
        if keep(v):
            xs += [i, i, None]
            ys += [0, v, None]
    return xs, ys

SANS = "Liberation Sans, Arial"
axis_font = dict(family=SANS, size=9.8, color="#ffffff")

smooth = dict(shape="spline", smoothing=0.5)

fig = go.Figure()
fig.add_trace(go.Candlestick(
    x=bars, open=opens, high=highs, low=lows, close=closes,
    increasing=dict(line=dict(color="#00ff00", width=1), fillcolor="#000000"),
    decreasing=dict(line=dict(color="#00ff00", width=1), fillcolor="#ffffff"),
    whiskerwidth=0, xaxis="x", yaxis="y", hoverinfo="skip"))
fig.add_trace(go.Scatter(x=magenta_bar, y=magenta_val, mode="lines", line=dict(color="#ff00ff", width=2.2, **smooth), xaxis="x", yaxis="y", hoverinfo="skip"))
fig.add_trace(go.Scatter(x=blue_bar, y=blue_val, mode="lines", line=dict(color="#0000d8", width=2.2, **smooth), xaxis="x", yaxis="y", hoverinfo="skip"))
fig.add_trace(go.Scatter(x=zigzag_bar, y=zigzag_val, mode="lines", line=dict(color="#ff0000", width=1.7), xaxis="x", yaxis="y", hoverinfo="skip"))
fig.add_trace(go.Scatter(x=red_bar, y=red_val, mode="lines", line=dict(color="#ff0000", width=2.6), xaxis="x", yaxis="y", hoverinfo="skip"))
pos_x, pos_y = stems(lambda v: v > 0)
neg_x, neg_y = stems(lambda v: v < 0)
fig.add_trace(go.Scatter(x=pos_x, y=pos_y, mode="lines", line=dict(color="#ff0000", width=1), connectgaps=False, xaxis="x2", yaxis="y2", hoverinfo="skip"))
fig.add_trace(go.Scatter(x=neg_x, y=neg_y, mode="lines", line=dict(color="#0000ff", width=1), connectgaps=False, xaxis="x2", yaxis="y2", hoverinfo="skip"))
fig.add_trace(go.Scatter(x=macd_bar, y=macd_val, mode="lines", line=dict(color="#ffff00", width=1), xaxis="x2", yaxis="y2", hoverinfo="skip"))
fig.add_trace(go.Scatter(x=signal_bar, y=signal_val, mode="lines", line=dict(color="#00ff00", width=1), xaxis="x2", yaxis="y2", hoverinfo="skip"))

x_dom = [px(3.5), px(2512.5)]
x_rng = [-0.5, 626.75]
common_x = dict(domain=x_dom, range=x_rng, showgrid=False, zeroline=False, showticklabels=False, ticks="",
                showline=True, mirror=True, linecolor="#ffffff", linewidth=1, fixedrange=True)
common_y = dict(side="right", showgrid=False, zeroline=False, ticks="outside", ticklen=3, tickcolor="#ffffff", tickwidth=1,
                showline=True, mirror=True, linecolor="#ffffff", linewidth=1, tickfont=axis_font, fixedrange=True)

fig.update_layout(
    width=W, height=H + 5, autosize=False, margin=dict(l=0, r=0, t=0, b=0, pad=0),
    paper_bgcolor="#000000", plot_bgcolor="#000000", showlegend=False, dragmode=False,
    xaxis=dict(common_x, anchor="y", rangeslider=dict(visible=False)),
    xaxis2=dict(common_x, anchor="y2"),
    yaxis=dict(common_y, anchor="x", domain=[py(1112), py(2)], range=[3977.44, 4258.38],
               tickmode="array", tickvals=price_ticks, ticktext=[f"{v:.2f}" for v in price_ticks]),
    yaxis2=dict(common_y, anchor="x2", domain=[0, py(1115)], range=[-36.4, 26.6],
                tickmode="array", tickvals=macd_ticks, ticktext=macd_tick_text),
    shapes=[dict(type="line", xref="paper", yref="y", x0=x_dom[0], x1=x_dom[1], y0=last_price, y1=last_price,
                 line=dict(color="#778899", width=1), layer="above")],
    annotations=[
        dict(xref="paper", yref="paper", x=px(7), y=py(10), text="▼", showarrow=False, xanchor="left", yanchor="middle",
             font=dict(family="DejaVu Sans", size=8, color="#ffffff")),
        dict(xref="paper", yref="paper", x=px(20), y=py(10), text=header_text, showarrow=False, xanchor="left", yanchor="middle",
             font=dict(family=SANS, size=9.3, color="#ffffff")),
        dict(xref="paper", yref="paper", x=px(6), y=py(1122), text=macd_text, showarrow=False, xanchor="left", yanchor="middle",
             font=dict(family=SANS, size=10, color="#ffffff")),
        dict(xref="paper", yref="paper", x=px(2010), y=py(4), text="▼", showarrow=False, xanchor="center", yanchor="middle",
             font=dict(family="DejaVu Sans", size=8, color="#a0a0a0")),
        dict(xref="paper", yref="paper", x=px(1328), y=py(1067), text=blue_title, showarrow=False, xanchor="center", yanchor="middle",
             font=dict(family="Noto Sans CJK SC", size=48, color="#3d98f0")),
        dict(xref="paper", yref="paper", x=px(2334.5), y=py(1155), text="<b>" + white_title + "</b>", showarrow=False, xanchor="center", yanchor="middle",
             font=dict(family="Noto Sans CJK SC", size=89, color="#ffffff")),
        dict(xref="paper", yref="y", x=px(2514), y=last_price, text=f"{last_price:.2f}", showarrow=False, xanchor="left", yanchor="middle",
             bgcolor="#ffffff", borderpad=1, font=dict(family=SANS, size=9.8, color="#000000")),
    ],
)

fig.write_html("out.html",
               post_script="document.documentElement.style.overflow='hidden';document.body.style.margin='0';document.body.style.overflow='hidden';document.body.style.background='#000';",
               config={"displayModeBar": False})
